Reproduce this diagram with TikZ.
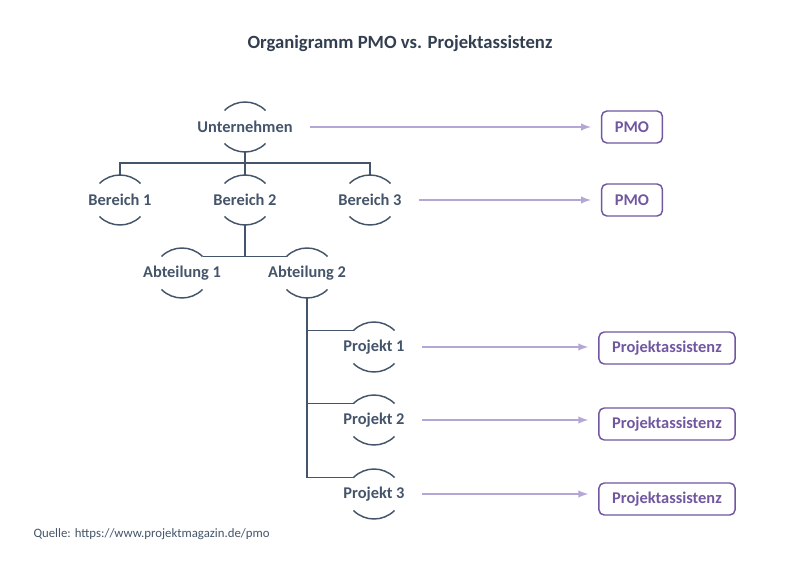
\documentclass[tikz,border=0pt]{standalone}
\usepackage{fontspec}
\setmainfont{Carlito}
\definecolor{slate}{HTML}{44546A}
\definecolor{titelgrau}{HTML}{333F50}
\definecolor{lila}{HTML}{7157A0}
\definecolor{lilahell}{HTML}{B4A7D6}

\begin{document}
\begin{tikzpicture}[x=0.75pt, y=-0.75pt, thick]

		\tikzstyle{titel}=[text=titelgrau, font=\bfseries\fontsize{14}{16}\selectfont, inner sep=0pt]
		\tikzstyle{einheit}=[text=slate, font=\bfseries\fontsize{12.3}{14}\selectfont, inner sep=0pt]
		\tikzstyle{rolle}=[rectangle, rounded corners=4pt, draw=lila, line width=1.1pt, text=lila, font=\bfseries\fontsize{12.3}{14}\selectfont, inner xsep=10pt, minimum height=24pt]
		\tikzstyle{quelle}=[text=slate, font=\fontsize{9.6}{11}\selectfont, inner sep=0pt, anchor=west]
		\tikzstyle{linie}=[slate, line width=1.1pt]
		\tikzstyle{pfeil}=[-latex, lilahell, line width=1.5pt, shorten <=13pt, shorten >=7.5pt]

		\useasboundingbox (0,0) rectangle (800,570);

		\node[titel] (titel) at (400,44) {Organigramm PMO vs. Projektassistenz};

		% Organisation
		\node[einheit] (u)  at (245,127) {Unternehmen};
		\node[einheit] (b1) at (120,200) {Bereich 1};
		\node[einheit] (b2) at (245,200) {Bereich 2};
		\node[einheit] (b3) at (370,200) {Bereich 3};
		\node[einheit] (a1) at (182,273) {Abteilung 1};
		\node[einheit] (a2) at (307,273) {Abteilung 2};
		\node[einheit] (p1) at (374,347) {Projekt 1};
		\node[einheit] (p2) at (374,420) {Projekt 2};
		\node[einheit] (p3) at (374,494) {Projekt 3};

		% Boegen ueber und unter den Einheiten
		\foreach \n in {u,b1,b2,b3,a1,a2,p1,p2,p3} {
			\draw[linie] ([shift={(-20.5,-16.5)}]\n.center) arc[start angle=225, end angle=315, radius=29];
			\draw[linie] ([shift={(20.5,16.5)}]\n.center) arc[start angle=45, end angle=135, radius=29];
		}

		% Rollen
		\node[rolle] (pmo1) at (632,127) {PMO};
		\node[rolle] (pmo2) at (632,200) {PMO};
		\node[rolle] (pa1)  at (667,348) {Projektassistenz};
		\node[rolle] (pa2)  at (667,424) {Projektassistenz};
		\node[rolle] (pa3)  at (667,499) {Projektassistenz};

		% Linien
		\draw[linie] ([shift={(0,25)}]u.center) -- ([shift={(0,-25)}]b2.center);
		\draw[linie] ([shift={(0,-25)}]b1.center) -- ++(0,-12) -| ([shift={(0,-25)}]b3.center);
		\draw[linie] ([shift={(0,25)}]b2.center) -- ++(0,31.5);
		\draw[linie] ([shift={(20.5,-16.5)}]a1.center) -- ([shift={(-20.5,-16.5)}]a2.center);
		\draw[linie] ([shift={(0,25)}]a2.center) |- ([shift={(-20.5,-16.5)}]p1.center);
		\draw[linie] ([shift={(0,25)}]a2.center) |- ([shift={(-20.5,-16.5)}]p2.center);
		\draw[linie] ([shift={(0,25)}]a2.center) |- ([shift={(-20.5,-16.5)}]p3.center);

		% Pfeile
		\draw[pfeil] (u) -- (u -| pmo1.west);
		\draw[pfeil] (b3) -- (b3 -| pmo2.west);
		\draw[pfeil] (p1) -- (p1 -| pa1.west);
		\draw[pfeil] (p2) -- (p2 -| pa2.west);
		\draw[pfeil] (p3) -- (p3 -| pa3.west);

		\node[quelle] (q) at (33,534) {Quelle: https://www.projektmagazin.de/pmo};
\end{tikzpicture}
\end{document}
